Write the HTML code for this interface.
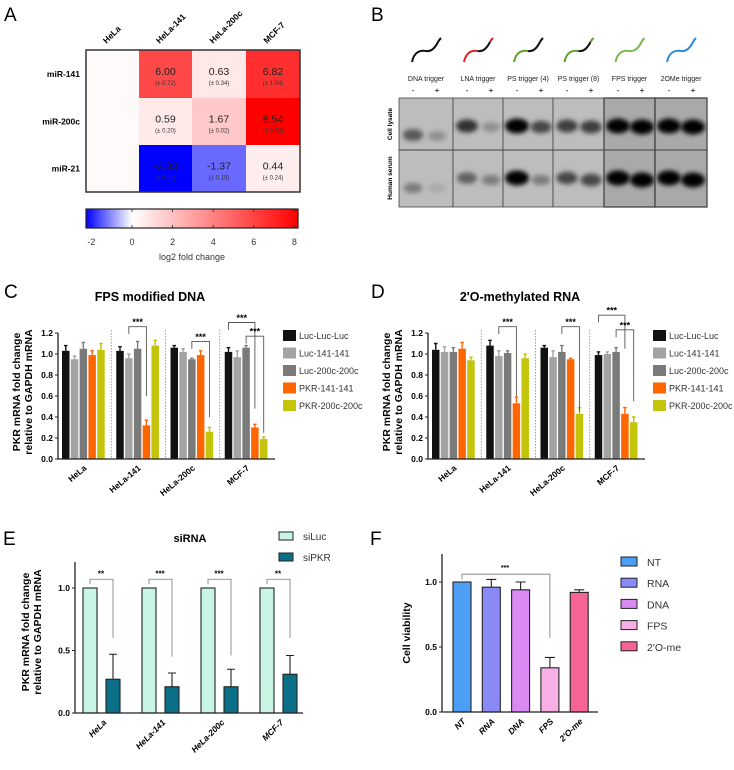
<!DOCTYPE html>
<html><head><meta charset="utf-8"><style>
html,body{margin:0;padding:0;background:#fff}
svg{display:block;font-family:"Liberation Sans",Arial,sans-serif}
</style></head><body>
<svg id="fig" width="734" height="770" viewBox="0 0 734 770" xmlns="http://www.w3.org/2000/svg">
<defs>
<linearGradient id="cbar" x1="86" x2="298" y1="0" y2="0" gradientUnits="userSpaceOnUse">
<stop offset="0" stop-color="#0000ff"/><stop offset="0.217" stop-color="#ffffff"/><stop offset="1" stop-color="#ff0000"/>
</linearGradient>
<filter id="blur" x="-50%" y="-50%" width="200%" height="200%"><feGaussianBlur stdDeviation="2.4"/></filter>
</defs>
<text x="4" y="21" font-size="19">A</text>
<text x="371" y="21" font-size="19">B</text>
<text x="4" y="298" font-size="19">C</text>
<text x="371" y="298" font-size="19">D</text>
<text x="3" y="545" font-size="19">E</text>
<text x="370" y="545" font-size="19">F</text>
<g id="gA"></g><g id="gB"></g><g id="gC"></g><g id="gD"></g><g id="gE"></g><g id="gF"></g>
</svg>
<script>
// ---------- Data ----------
const hmCols=['HeLa','HeLa-141','HeLa-200c','MCF-7'];
const hmRows=['miR-141','miR-200c','miR-21'];
const hmMiR141=[0,6.00,0.63,6.82];
const hmMiR200c=[0,0.59,1.67,8.54];
const hmMiR21=[0,-2.33,-1.37,0.44];
const hmErr141=[null,0.72,0.34,1.04];
const hmErr200c=[null,0.20,0.02,0.42];
const hmErr21=[null,0.22,0.15,0.24];
const cbTicks=[-2,0,2,4,6,8];

const groups=['HeLa','HeLa-141','HeLa-200c','MCF-7'];
const seriesNames=['Luc-Luc-Luc','Luc-141-141','Luc-200c-200c','PKR-141-141','PKR-200c-200c'];
const yTicksCD=[0,0.2,0.4,0.6,0.8,1.0,1.2];
const cLucLucLuc=[1.03,1.03,1.06,1.02];
const cLuc141=[0.95,0.96,1.02,0.97];
const cLuc200c=[1.05,1.05,0.95,1.06];
const cPKR141=[0.99,0.32,0.99,0.30];
const cPKR200c=[1.04,1.08,0.26,0.19];
const cErr=[[0.05,0.04,0.02,0.04],[0.03,0.04,0.03,0.06],[0.06,0.07,0.01,0.02],[0.04,0.05,0.04,0.03],[0.06,0.05,0.04,0.02]];
const dLucLucLuc=[1.04,1.08,1.06,0.99];
const dLuc141=[1.02,0.98,0.97,1.00];
const dLuc200c=[1.02,1.01,1.02,1.02];
const dPKR141=[1.05,0.53,0.95,0.43];
const dPKR200c=[0.94,0.96,0.43,0.35];
const dErr=[[0.06,0.05,0.02,0.03],[0.05,0.05,0.06,0.02],[0.04,0.02,0.06,0.04],[0.06,0.06,0.01,0.06],[0.03,0.04,0.06,0.05]];

const eSiLuc=[1.0,1.0,1.0,1.0];
const eSiPKR=[0.27,0.21,0.21,0.31];
const eSiPKRErr=[0.20,0.11,0.14,0.15];
const eSig=['**','***','***','**'];
const eSigEnd=[0.6,0.45,0.46,0.6];
const yTicksEF=[0,0.5,1.0];

const fCats=['NT','RNA','DNA','FPS',"2'O-me"];
const fVals=[1.0,0.96,0.94,0.34,0.92];
const fErr=[0,0.06,0.06,0.08,0.02];

// ---------- helpers ----------
const NS='http://www.w3.org/2000/svg';
function mk(tag,attrs,parent,txt){const e=document.createElementNS(NS,tag);for(const k in attrs)e.setAttribute(k,attrs[k]);if(txt!==undefined)e.textContent=txt;parent.appendChild(e);return e;}

// ---------- Panel A heatmap ----------
(function(){
const g=document.getElementById('gA');
const vals=[hmMiR141,hmMiR200c,hmMiR21];
const errs=[hmErr141,hmErr200c,hmErr21];
const cx=[86,139,192,246,300], ry=[50,98,145,192];
function col(v){if(v>=0){const t=Math.min(1,v/8.54);const c=Math.round(255*(1-t));return `rgb(255,${Math.max(0,c-4)},${Math.max(0,c-4)})`;}const t=Math.min(1,-v/2.33);const c=Math.round(255*(1-t));return `rgb(${c},${c},255)`;}
for(let r=0;r<3;r++){for(let c=0;c<4;c++){
 const v=vals[r][c];
 const cell=mk('rect',{x:cx[c],y:ry[r],width:cx[c+1]-cx[c],height:ry[r+1]-ry[r],fill:v===0?'#fffafa':col(v)},g);
 
 
 if(errs[r][c]!==null){
  const mx=(cx[c]+cx[c+1])/2,my=(ry[r]+ry[r+1])/2;
  const t1=mk('text',{x:mx,y:my+1,'text-anchor':'middle','font-size':10.5,fill:'#222'},g,v.toFixed(2));
  
  
  const t2=mk('text',{x:mx,y:my+11,'text-anchor':'middle','font-size':6,fill:'#333'},g,'(± '+errs[r][c].toFixed(2)+')');
  
  
 }
}}
const fr=mk('rect',{x:86,y:50,width:214,height:142,fill:'none',stroke:'#333','stroke-width':1.5},g);


hmCols.forEach((n,c)=>{const mx=(cx[c]+cx[c+1])/2;
 const t=mk('text',{x:mx-6,y:44,'font-size':8.5,'font-weight':'bold',transform:`rotate(-45 ${mx-6} 44)`},g,n);
 
 });
hmRows.forEach((n,r)=>{
 const t=mk('text',{x:80,y:(ry[r]+ry[r+1])/2+3,'text-anchor':'end','font-size':8.5,'font-weight':'bold'},g,n);
 
 });
const cb=mk('rect',{x:86,y:209,width:212,height:19,fill:'url(#cbar)',stroke:'#222','stroke-width':1.2},g);


const cbx=v=>132+v*20.3;
cbTicks.forEach(v=>{
 const l=mk('path',{d:`M${cbx(v)} 209v3M${cbx(v)} 228v-3`,stroke:'#222','stroke-width':0.8},g);
 
 
 const t=mk('text',{x:cbx(v),y:245,'text-anchor':'middle','font-size':9,fill:'#333'},g,String(v));
 
 });
const tl=mk('text',{x:192,y:260,'text-anchor':'middle','font-size':9,fill:'#333'},g,'log2 fold change');


})();

// ---------- Panel B gel ----------
const gelLanes=['DNA trigger','LNA trigger','PS trigger (4)','PS trigger (8)','FPS trigger','2OMe trigger'];
const gelLysateMinus=[0.55,0.75,1,0.7,1,1];
const gelLysatePlus=[0.25,0.25,0.65,0.7,1,1];
const gelSerumMinus=[0.35,0.5,1,0.65,1,1];
const gelSerumPlus=[0.12,0.35,0.35,0.65,1,1];
(function(){
const g=document.getElementById('gB');
const bx=[399,453,503,553,604,655,707];
const squig=[['#111','#111','#111'],['#e02020','#111','#e02020'],['#5aa02a','#111','#111'],['#5aa02a','#111','#5aa02a'],['#7ab84a','#7ab84a','#7ab84a'],['#2a8de0','#2a8de0','#2a8de0']];
for(let i=0;i<6;i++){
 const L=bx[i],R=bx[i+1],m=(L+R)/2;
 const bg=i>=4?'#a9a9a9':'#bdbdbd';
 const r1=mk('rect',{x:L,y:98,width:R-L,height:109,fill:bg},g);
 
 
 const lm=L+14,lp=L+38;
 const sets=[[gelLysateMinus[i],lm,i==0?135:126],[gelLysatePlus[i],lp,i==0?136:127],[gelSerumMinus[i],lm,i==0?188:178],[gelSerumPlus[i],lp,i==0?188:180]];
 sets.forEach(s=>{const k=s[0];const sh=Math.round(190-185*k);
  const b=mk('ellipse',{cx:s[1],cy:s[2],rx:8+k*4,ry:4+k*3.5,fill:`rgb(${sh},${sh},${sh})`,filter:'url(#blur)'},g);
  
  });
 const x0=m-14,y0=62;
 const p1=mk('path',{d:`M${x0} ${y0} C${x0+2} ${y0-10},${x0+8} ${y0-12},${x0+14} ${y0-11}`,fill:'none',stroke:squig[i][0],'stroke-width':2},g);
 
 
 const p2=mk('path',{d:`M${x0+14} ${y0-11} C${x0+20} ${y0-10},${x0+24} ${y0-16},${x0+26} ${y0-20}`,fill:'none',stroke:squig[i][1],'stroke-width':2},g);
 
 
 const p3=mk('path',{d:`M${x0+26} ${y0-20} C${x0+27} ${y0-22},${x0+28} ${y0-23},${x0+29} ${y0-24}`,fill:'none',stroke:squig[i][2],'stroke-width':2},g);
 
 
 const t=mk('text',{x:m,y:81,'text-anchor':'middle','font-size':7,fill:'#222'},g,gelLanes[i]);
 
 
 const mn=mk('text',{x:lm,y:93,'text-anchor':'middle','font-size':8.5},g,'-');
 
 
 const pl=mk('text',{x:lp,y:93,'text-anchor':'middle','font-size':8.5},g,'+');
 
 
 const fr=mk('rect',{x:L,y:98,width:R-L,height:109,fill:'none',stroke:'#444','stroke-width':i>=4?1.3:0.8},g);
 
 
}
const sp=mk('line',{x1:399,x2:707,y1:150,y2:150,stroke:'#444','stroke-width':1},g);


const a=mk('text',{x:392,y:124,'text-anchor':'middle','font-size':6.5,'font-weight':'bold',transform:'rotate(-90 392 124)'},g,'Cell lysate');


const b=mk('text',{x:392,y:178,'text-anchor':'middle','font-size':6.5,'font-weight':'bold',transform:'rotate(-90 392 178)'},g,'Human serum');


})();

// ---------- Panels C & D ----------
const cdColors=['#111111','#a3a3a3','#7a7a7a','#ff6600','#c4c40a'];
function drawCD(g,ox,title,series,errs,brackets){
 const x0=ox+58,x1=ox+275,y0=459,y1=333;
 const ys=v=>y0-(v/1.2)*(y0-y1);
 const gw=(x1-x0)/4;
 const tt=mk('text',{x:ox+150,y:301,'text-anchor':'middle','font-size':12.5,'font-weight':'bold'},g,title);
 
 
 for(let k=1;k<4;k++){const sx=x0+k*gw-1;
  const d=mk('line',{x1:sx,x2:sx,y1:y1-3,y2:y0,stroke:'#888','stroke-width':0.8,'stroke-dasharray':'1.5,1.5'},g);
  
  }
 groups.forEach((gn,gi)=>{
  series.forEach((s,si)=>{
   const bx=x0+gi*gw+4+si*8.8, v=s[gi], e=errs[si][gi];
   const eb=mk('path',{d:`M${bx+3.75} ${ys(v)}V${ys(v+e)}M${bx+2} ${ys(v+e)}h3.5`,stroke:cdColors[si],'stroke-width':1.4,fill:'none'},g);
   
   
   const r=mk('rect',{x:bx,y:ys(v),width:7.5,height:y0-ys(v),fill:cdColors[si]},g);
   
   
  });
  const cx=x0+gi*gw+gw/2-2;
  const t=mk('text',{x:cx+4,y:y0+10,'text-anchor':'end','font-size':8.5,'font-weight':'bold',transform:`rotate(-40 ${cx+4} ${y0+10})`},g,gn);
  
  
 });
 brackets.forEach(b=>{
  const xa=x0+b[0]*gw+4+b[1]*8.8+3.75, xb=x0+b[0]*gw+4+b[2]*8.8+3.75;
  const p=mk('path',{d:`M${xa} ${ys(b[3]-0.07)}V${ys(b[3])}H${xb}V${ys(b[4])}`,stroke:'#555','stroke-width':0.9,fill:'none'},g);
  
  
  const t=mk('text',{x:(xa+xb)/2,y:ys(b[3])-1.5,'text-anchor':'middle','font-size':9,'font-weight':'bold'},g,'***');
  
  
 });
 const ax=mk('path',{d:`M${x0} ${y1}V${y0}H${x1}`,stroke:'#222','stroke-width':1.3,fill:'none'},g);
 
 
 yTicksCD.forEach(v=>{
  const tk=mk('line',{x1:x0-3,x2:x0,y1:ys(v),y2:ys(v),stroke:'#222'},g);
  
  
  const t=mk('text',{x:x0-5,y:ys(v)+3,'text-anchor':'end','font-size':8.5,'font-weight':'bold'},g,v.toFixed(1));
  
  });
 const yl1=mk('text',{x:ox+20,y:392,'text-anchor':'middle','font-size':10.5,'font-weight':'bold',transform:`rotate(-90 ${ox+20} 392)`},g,'PKR mRNA fold change');
 
 
 const yl2=mk('text',{x:ox+32,y:392,'text-anchor':'middle','font-size':10.5,'font-weight':'bold',transform:`rotate(-90 ${ox+32} 392)`},g,'relative to GAPDH mRNA');
 
 
 seriesNames.forEach((n,i)=>{const ly=330+i*17.5;
  const sw=mk('rect',{x:ox+283,y:ly,width:13,height:11,fill:cdColors[i]},g);
  
  
  const t=mk('text',{x:ox+299,y:ly+9,'font-size':9,fill:'#333'},g,n);
  
  });
}
drawCD(document.getElementById('gC'),0,'FPS modified DNA',[cLucLucLuc,cLuc141,cLuc200c,cPKR141,cPKR200c],cErr,
 [[1,1,3,1.26,0.6],[2,2,4,1.12,0.4],[3,0,3,1.30,0.48],[3,2,4,1.17,0.25]]);
drawCD(document.getElementById('gD'),370,"2'O-methylated RNA",[dLucLucLuc,dLuc141,dLuc200c,dPKR141,dPKR200c],dErr,
 [[1,1,3,1.26,0.6],[2,2,4,1.26,0.45],[3,0,3,1.37,1.05],[3,2,4,1.23,0.55]]);

// ---------- Panel E ----------
(function(){
const g=document.getElementById('gE');
const x0=75,x1=303,y0=713,yt=562;
const ys=v=>y0-v*125;
const pitch=59, gx=i=>83+i*pitch;
const tt=mk('text',{x:190,y:542,'text-anchor':'middle','font-size':11,'font-weight':'bold'},g,'siRNA');


groups.forEach((gn,i)=>{
 const a=mk('rect',{x:gx(i),y:ys(eSiLuc[i]),width:14,height:y0-ys(eSiLuc[i]),fill:'#c8f5e4',stroke:'#222','stroke-width':1.1},g);
 
 
 const bx=gx(i)+23;
 const eb=mk('path',{d:`M${bx+7} ${ys(eSiPKR[i])}V${ys(eSiPKR[i]+eSiPKRErr[i])}M${bx+3} ${ys(eSiPKR[i]+eSiPKRErr[i])}h8`,stroke:'#222','stroke-width':1.1,fill:'none'},g);
 
 
 const b=mk('rect',{x:bx,y:ys(eSiPKR[i]),width:14,height:y0-ys(eSiPKR[i]),fill:'#0b6f87',stroke:'#222','stroke-width':1.1},g);
 
 
 const br=mk('path',{d:`M${gx(i)+7} ${ys(1.03)}V${ys(1.07)}H${bx+7}V${ys(eSigEnd[i])}`,stroke:'#777','stroke-width':0.8,fill:'none'},g);
 
 
 const st=mk('text',{x:gx(i)+18,y:ys(1.07)-3,'text-anchor':'middle','font-size':8,'font-weight':'bold'},g,eSig[i]);
 
 
 const cx=gx(i)+20;
 const t=mk('text',{x:cx+4,y:y0+10,'text-anchor':'end','font-size':8.5,'font-weight':'bold','font-style':'italic',transform:`rotate(-45 ${cx+4} ${y0+10})`},g,gn);
 
 
});
const ax=mk('path',{d:`M${x0} ${yt}V${y0}H${x1}`,stroke:'#222','stroke-width':1.3,fill:'none'},g);


yTicksEF.forEach(v=>{
 const tk=mk('line',{x1:x0-3,x2:x0,y1:ys(v),y2:ys(v),stroke:'#222'},g);
 
 
 const t=mk('text',{x:x0-5,y:ys(v)+3,'text-anchor':'end','font-size':8.5,'font-weight':'bold'},g,v.toFixed(1));
 
 });
const yl1=mk('text',{x:29,y:632,'text-anchor':'middle','font-size':10.5,'font-weight':'bold',transform:'rotate(-90 29 632)'},g,'PKR mRNA fold change');


const yl2=mk('text',{x:41,y:632,'text-anchor':'middle','font-size':10.5,'font-weight':'bold',transform:'rotate(-90 41 632)'},g,'relative to GAPDH mRNA');


[['siLuc','#c8f5e4',532],['siPKR','#0b6f87',553]].forEach(l=>{
 const sw=mk('rect',{x:279,y:l[2],width:14,height:8,fill:l[1],stroke:'#222'},g);
 
 
 const t=mk('text',{x:303,y:l[2]+8,'font-size':10,fill:'#333'},g,l[0]);
 
 });
})();

// ---------- Panel F ----------
(function(){
const g=document.getElementById('gF');
const cols=['#4d9ff5','#8a8af7','#d98af2','#f6b0e6','#f56492'];
const x0=442,x1=598,y0=712,yt=554;
const ys=v=>y0-v*130;
const bxf=i=>453+i*29.3;
fCats.forEach((c,i)=>{
 const v=fVals[i],e=fErr[i];
 if(e>0){const eb=mk('path',{d:`M${bxf(i)+9} ${ys(v)}V${ys(v+e)}M${bxf(i)+4} ${ys(v+e)}h10`,stroke:'#222','stroke-width':1.1,fill:'none'},g);
  
  }
 const r=mk('rect',{x:bxf(i),y:ys(v),width:18,height:y0-ys(v),fill:cols[i],stroke:'#222','stroke-width':1.1},g);
 
 
 const cx=bxf(i)+9;
 const t=mk('text',{x:cx+4,y:y0+10,'text-anchor':'end','font-size':8.5,'font-weight':'bold','font-style':'italic',transform:`rotate(-45 ${cx+4} ${y0+10})`},g,c);
 
 
 const sw=mk('rect',{x:621,y:557+i*21.2,width:16,height:9,fill:cols[i],stroke:'#222'},g);
 
 
 const lt=mk('text',{x:647,y:566+i*21.2,'font-size':10.5,fill:'#333'},g,c);
 
 
});
const br=mk('path',{d:`M${bxf(0)+9} ${ys(1.02)}V${ys(1.06)}H${bxf(3)+9}V${ys(0.57)}`,stroke:'#777','stroke-width':0.8,fill:'none'},g);


const st=mk('text',{x:505,y:ys(1.06)-4,'text-anchor':'middle','font-size':7,'font-weight':'bold'},g,'***');


const ax=mk('path',{d:`M${x0} ${yt}V${y0}H${x1}`,stroke:'#222','stroke-width':1.3,fill:'none'},g);


yTicksEF.forEach(v=>{
 const tk=mk('line',{x1:x0-3,x2:x0,y1:ys(v),y2:ys(v),stroke:'#222'},g);
 
 
 const t=mk('text',{x:x0-5,y:ys(v)+3,'text-anchor':'end','font-size':8.5,'font-weight':'bold'},g,v.toFixed(1));
 
 });
const yl=mk('text',{x:410,y:633,'text-anchor':'middle','font-size':10.5,'font-weight':'bold',transform:'rotate(-90 410 633)'},g,'Cell viability');


})();
</script>
</body></html>
